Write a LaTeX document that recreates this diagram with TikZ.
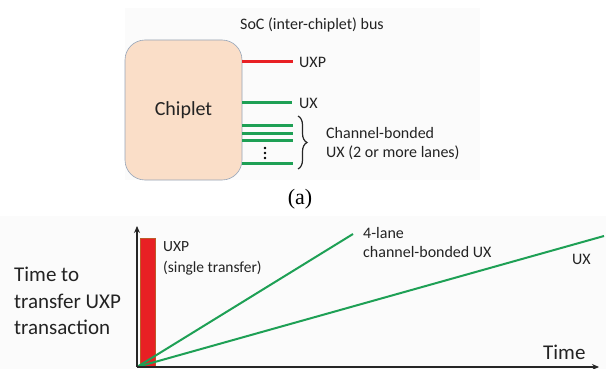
\documentclass[tikz,border=0pt]{standalone}
\usepackage{fontspec}
\setmainfont{Carlito}
\newfontfamily\capfont{Liberation Serif}
\usetikzlibrary{arrows.meta,decorations.pathreplacing}
\definecolor{peach}{RGB}{250,222,200}
\definecolor{boxline}{RGB}{150,165,185}
\definecolor{busred}{RGB}{232,32,36}
\definecolor{busgreen}{RGB}{30,160,85}
\definecolor{txt}{RGB}{35,35,35}
\definecolor{panel}{RGB}{251,251,251}
\definecolor{barline}{RGB}{190,90,40}
\tikzset{
  lbl/.style={inner sep=0pt, text=txt, font=\fontsize{16}{19}\selectfont},
  biglbl/.style={inner sep=0pt, text=txt, font=\fontsize{21}{26}\selectfont},
  lane/.style={line width=3pt, busgreen},
  plot/.style={line width=2pt, busgreen},
  axis/.style={line width=2pt, black!85, -{Stealth[length=7pt,width=6pt]}}
}
\begin{document}
\begin{tikzpicture}[x=1pt,y=-1pt]
\useasboundingbox (0,0) rectangle (606,369);
% panel backgrounds
\fill[panel] (125,8) rectangle (480,180);
\fill[panel] (0,216) rectangle (606,369);

% ---- (a) chiplet and its bus ----
\node[lbl, anchor=base] (soc) at (312,30) {SoC (inter-chiplet) bus};
\node[draw=boxline, line width=0.6pt, fill=peach, rounded corners=20pt,
      minimum width=117pt, minimum height=140pt, inner sep=0pt] (chip) at (183.5,110) {};
\node[biglbl, font=\fontsize{20}{24}\selectfont] (chiptxt) at (chip.center) {Chiplet};

\coordinate (uxpE) at (293,62);
\coordinate (uxE)  at (292,103);
\coordinate (c1E)  at (293,126);
\coordinate (c2E)  at (293,133.5);
\coordinate (c3E)  at (293,141);
\coordinate (c4E)  at (293,163);
\draw[line width=3pt, busred] (chip.east |- uxpE) -- (uxpE);
\draw[lane] (chip.east |- uxE) -- (uxE);
\draw[lane] (chip.east |- c1E) -- (c1E);
\draw[lane] (chip.east |- c2E) -- (c2E);
\draw[lane] (chip.east |- c3E) -- (c3E);
\draw[lane] (chip.east |- c4E) -- (c4E);
\foreach \yy in {148,153,158} \fill[black] (265,\yy) circle (1.3pt);

\node[lbl, anchor=west] (uxp) at (299,62) {UXP};
\node[lbl, anchor=west] (ux) at (299,103) {UX};
\coordinate (brT) at (298,116);
\coordinate (brB) at (298,169);
\draw[line width=1.2pt, black!85, decoration={brace, amplitude=9pt}, decorate] (brT) -- (brB);
\node[lbl, anchor=west, align=left] (cb) at (326,143.5) {Channel-bonded\\UX (2 or more lanes)};

\node[inner sep=0pt, font=\capfont\fontsize{22}{26}\selectfont] (cap) at (300,199) {(a)};

% ---- (b) transfer time plot ----
\coordinate (o) at (137,367);
\coordinate (ytop) at (137,226);
\coordinate (xend) at (599,367);
\draw[fill=busred, draw=barline, line width=0.6pt] (140,238) rectangle (155,367);
\coordinate (fourE) at (353,234);
\coordinate (uxlE) at (604,236);
\draw[plot] (o) -- (fourE);
\draw[plot] (o) -- (uxlE);
\draw[axis] (o) -- (ytop);
\draw[axis] (o) -- (xend);

\node[lbl, anchor=west, align=left, font=\fontsize{15.5}{20.5}\selectfont] (uxpb) at (163,258.5) {UXP\\(single transfer)};
\node[lbl, anchor=west, align=left] (four) at (363,243) {4-lane\\channel-bonded UX};
\node[lbl, anchor=west] (uxb) at (572,259) {UX};
\node[biglbl, anchor=west, align=left, font=\fontsize{21}{26.5}\selectfont] (ylab) at (14,301) {Time to\\transfer UXP\\transaction};
\node[biglbl, anchor=west] (xlab) at (543,352) {Time};
\end{tikzpicture}
\end{document}
